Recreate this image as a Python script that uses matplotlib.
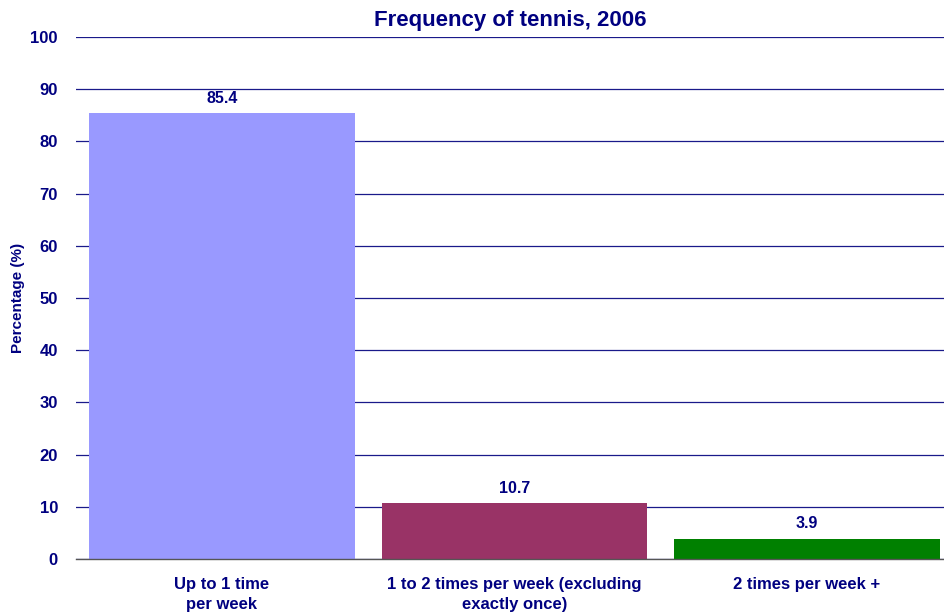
import matplotlib
matplotlib.use("Agg")
import matplotlib.pyplot as plt

categories = ["Up to 1 time\nper week",
              "1 to 2 times per week (excluding\nexactly once)",
              "2 times per week +"]
values = [85.4, 10.7, 3.9]
bar_colors = ["#9999FF", "#993366", "#008000"]
y_ticks = list(range(0, 101, 10))

navy = "#000080"
plt.rcParams["font.family"] = ["Liberation Sans", "DejaVu Sans"]
plt.rcParams["font.weight"] = "bold"

fig = plt.figure(figsize=(9.44, 6.14), dpi=100)
ax = fig.add_axes([76 / 944, 55 / 614, 868 / 944, 522 / 614])

x = list(range(len(categories)))
ax.bar(x, values, width=0.908, color=bar_colors, zorder=2)

for xi, v in zip(x, values):
    ax.annotate(f"{v:.1f}", (xi, v), xytext=(0, 5.5), textcoords="offset points",
                ha="center", va="bottom", color=navy, fontsize=11.5,
                fontweight="bold")

ax.set_xlim(-0.498, 2.468)
ax.set_ylim(0, 100)
ax.set_yticks(y_ticks)
ax.set_xticks(x)
ax.set_xticklabels(categories, color=navy, fontsize=12, fontweight="bold",
                   linespacing=1.45)
ax.tick_params(axis="y", length=0, pad=13, labelcolor=navy, labelsize=12)
ax.tick_params(axis="x", length=0, pad=13)
for lbl in ax.get_yticklabels():
    lbl.set_fontweight("bold")

ax.yaxis.grid(True, color="#1a1a8a", linewidth=0.9, zorder=0)
ax.set_axisbelow(True)
for side in ["top", "right", "left"]:
    ax.spines[side].set_visible(False)
ax.spines["bottom"].set_color("#555555")
ax.spines["bottom"].set_linewidth(1.0)
ax.spines["bottom"].set_zorder(3)

fig.text(18 / 944, 1 - 298 / 614, "Percentage (%)", rotation=90, color=navy,
         fontsize=11, fontweight="bold", ha="center", va="center")
ax.set_title("Frequency of tennis, 2006", color=navy, fontsize=16,
             fontweight="bold", pad=8)

fig.savefig("out.png", dpi=100)
